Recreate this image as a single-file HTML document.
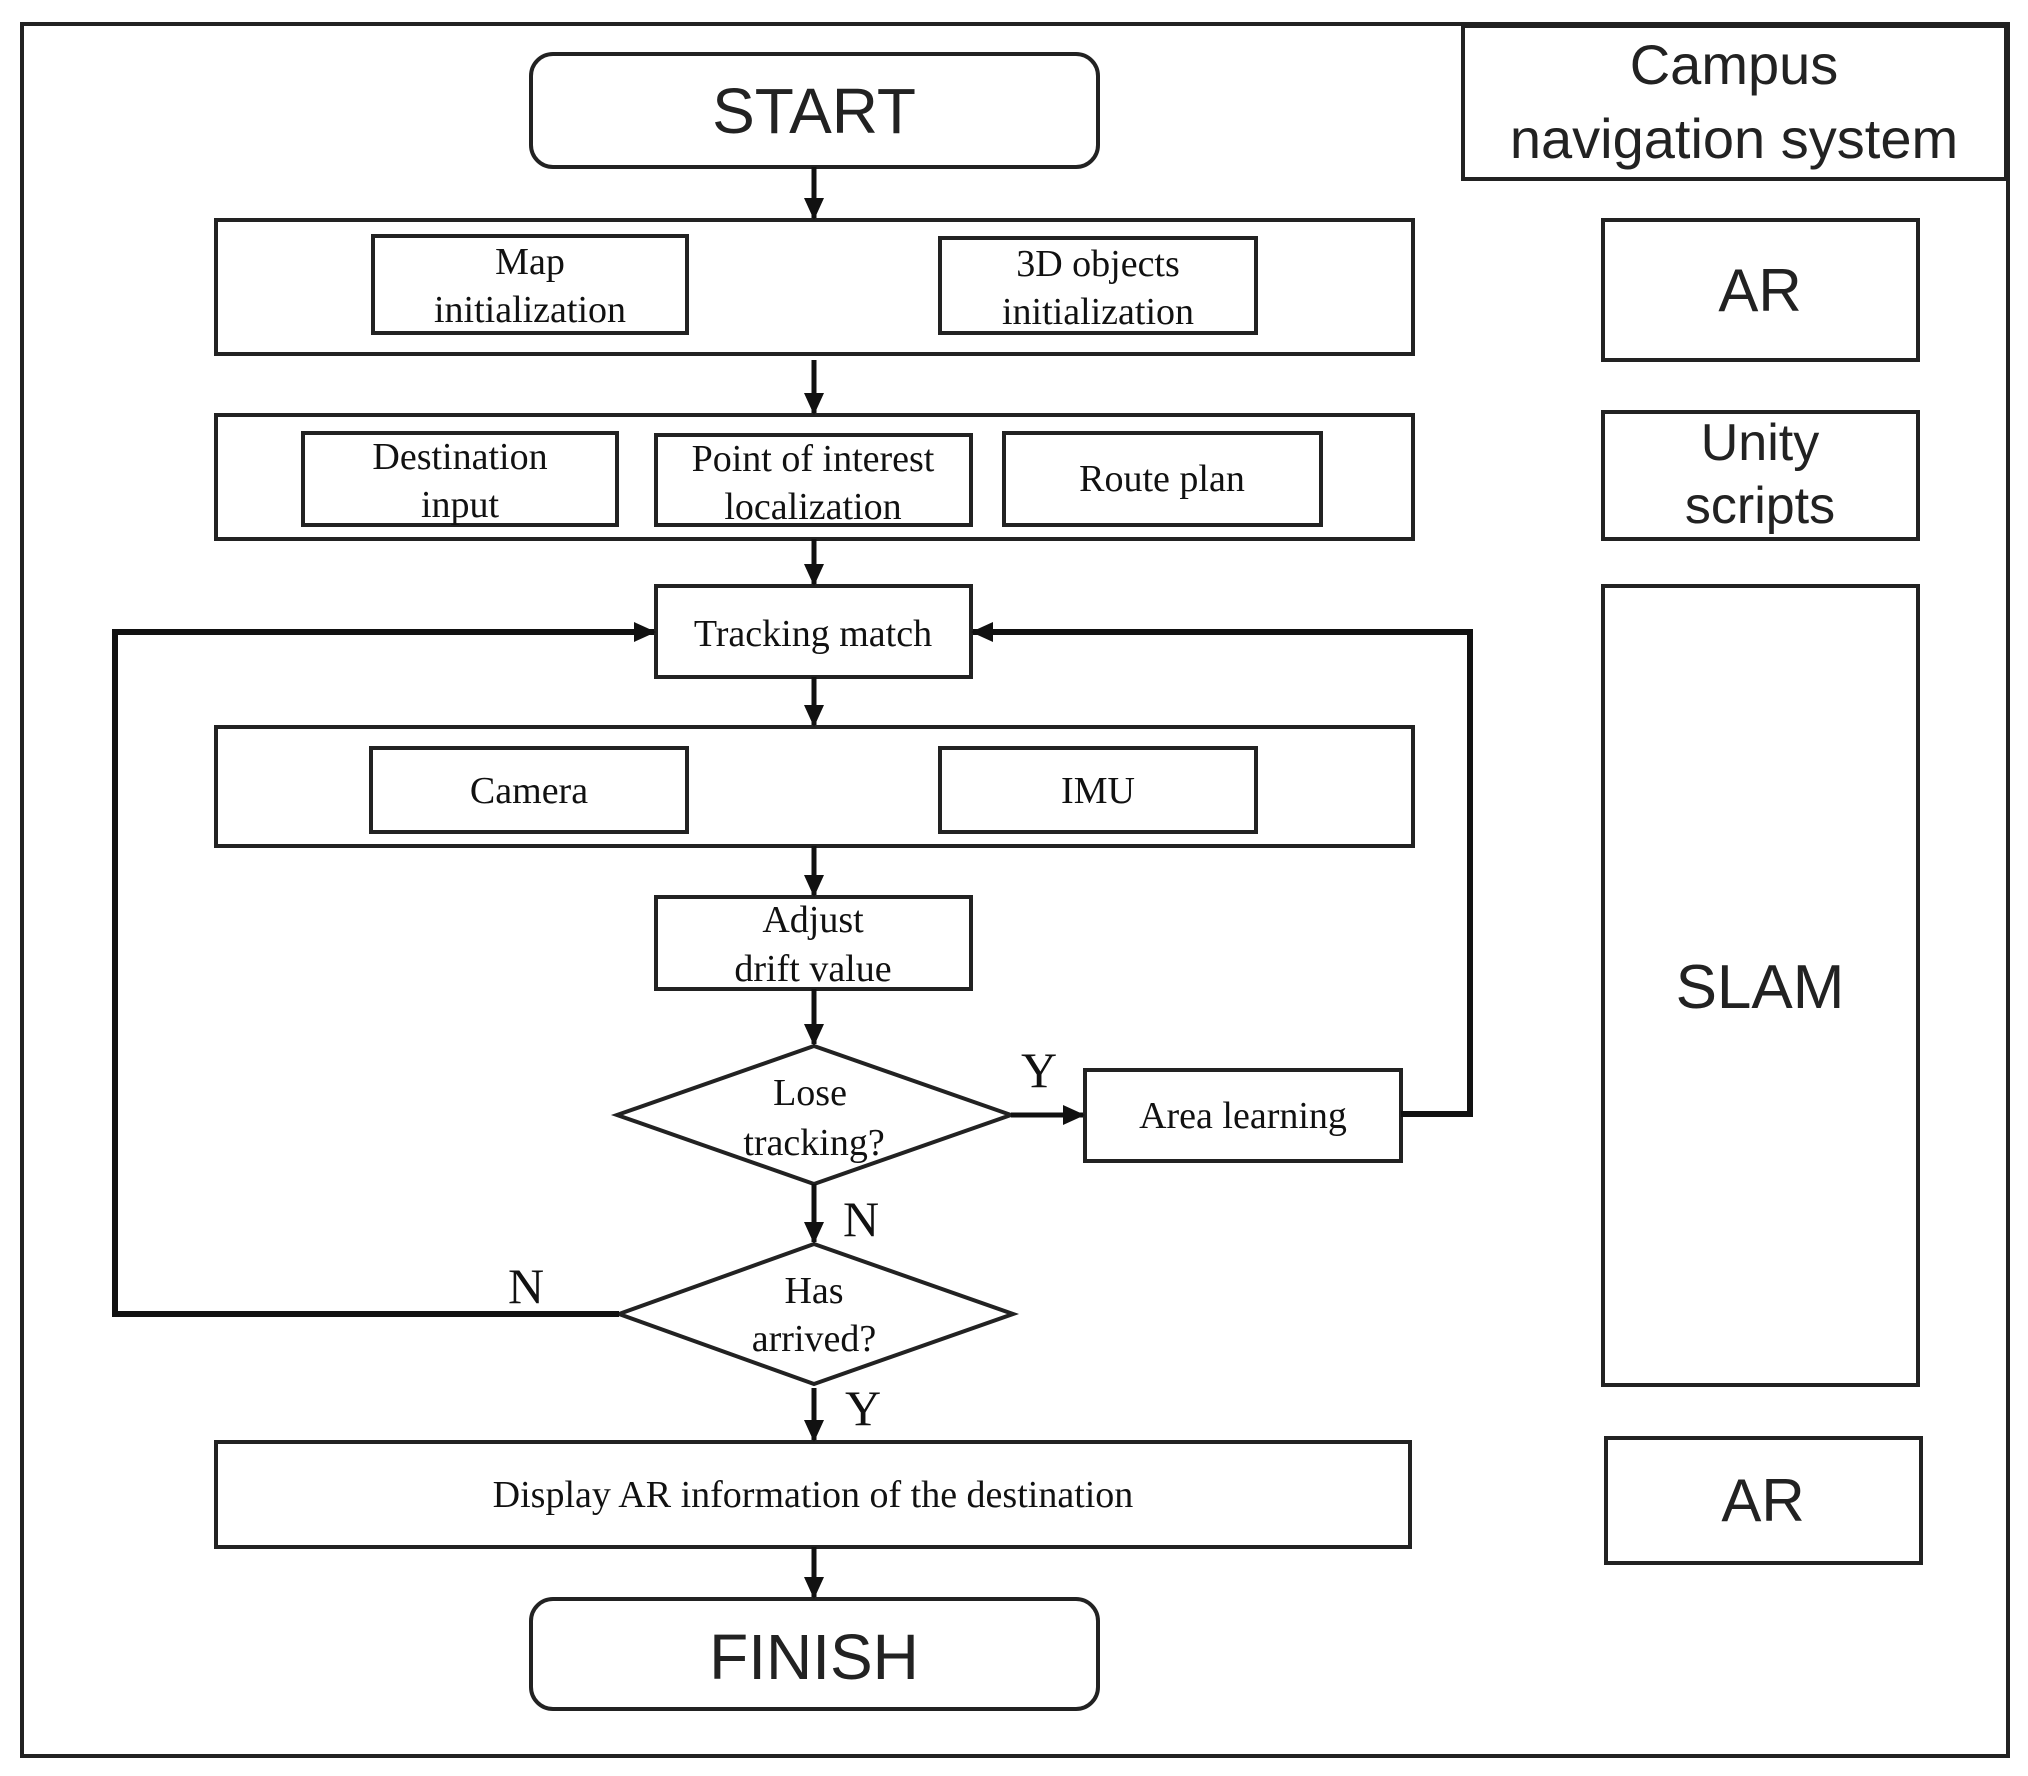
<!DOCTYPE html>
<html><head><meta charset="utf-8"><style>
html,body{margin:0;padding:0;background:#fff;}
svg{display:block;}
.s{font-family:"Liberation Serif",serif;fill:#111;text-anchor:middle;}
.a{font-family:"Liberation Sans",sans-serif;fill:#222;text-anchor:middle;}
</style></head><body>
<svg width="2028" height="1776" viewBox="0 0 2028 1776" xmlns="http://www.w3.org/2000/svg">
<defs>
<marker id="ab" markerWidth="22" markerHeight="20" refX="20" refY="10" orient="auto" markerUnits="userSpaceOnUse" viewBox="0 0 22 20"><path d="M0,0 L22,10 L0,20 z" fill="#111"/></marker></defs>
<g fill="none" stroke="#222" stroke-width="4">
<rect x="22" y="24" width="1986" height="1732"/>
<rect x="1463" y="26" width="543" height="153"/>
<rect x="531" y="54" width="567" height="113" rx="22"/>
<rect x="216" y="220" width="1197" height="134"/>
<rect x="373" y="236" width="314" height="97"/>
<rect x="940" y="238" width="316" height="95"/>
<rect x="216" y="415" width="1197" height="124"/>
<rect x="303" y="433" width="314" height="92"/>
<rect x="656" y="435" width="315" height="90"/>
<rect x="1004" y="433" width="317" height="92"/>
<rect x="656" y="586" width="315" height="91"/>
<rect x="216" y="727" width="1197" height="119"/>
<rect x="371" y="748" width="316" height="84"/>
<rect x="940" y="748" width="316" height="84"/>
<rect x="656" y="897" width="315" height="92"/>
<polygon points="617,1115 814,1046 1011,1115 814,1184"/>
<rect x="1085" y="1070" width="316" height="91"/>
<polygon points="619,1314 814,1244 1013,1314 814,1384"/>
<rect x="216" y="1442" width="1194" height="105"/>
<rect x="531" y="1599" width="567" height="110" rx="22"/>
<rect x="1603" y="220" width="315" height="140"/>
<rect x="1603" y="412" width="315" height="127"/>
<rect x="1603" y="586" width="315" height="799"/>
<rect x="1606" y="1438" width="315" height="125"/>
</g>
<g stroke="#111" stroke-width="5" fill="none">
<line x1="814" y1="167" x2="814" y2="218" marker-end="url(#ab)"/>
<line x1="814" y1="360" x2="814" y2="413" marker-end="url(#ab)"/>
<line x1="814" y1="539" x2="814" y2="584" marker-end="url(#ab)"/>
<line x1="814" y1="677" x2="814" y2="725" marker-end="url(#ab)"/>
<line x1="814" y1="846" x2="814" y2="895" marker-end="url(#ab)"/>
<line x1="814" y1="989" x2="814" y2="1044" marker-end="url(#ab)"/>
<line x1="814" y1="1184" x2="814" y2="1242" marker-end="url(#ab)"/>
<line x1="814" y1="1388" x2="814" y2="1440" marker-end="url(#ab)"/>
<line x1="814" y1="1547" x2="814" y2="1597" marker-end="url(#ab)"/>
<line x1="1011" y1="1115" x2="1083" y2="1115" marker-end="url(#ab)"/>
<polyline points="1401,1114 1470,1114 1470,632 973,632" stroke-width="6" marker-end="url(#ab)"/>
<polyline points="619,1314 115,1314 115,632 654,632" stroke-width="6" marker-end="url(#ab)"/>
</g>
<text class="a" x="1734" y="84" font-size="56">Campus</text>
<text class="a" x="1734" y="158" font-size="56">navigation system</text>
<text class="a" x="814" y="133" font-size="64">START</text>
<text class="a" x="814" y="1679" font-size="64">FINISH</text>
<text class="a" x="1760" y="311" font-size="60">AR</text>
<text class="a" x="1760" y="460" font-size="52">Unity</text>
<text class="a" x="1760" y="523" font-size="52">scripts</text>
<text class="a" x="1760" y="1008" font-size="62">SLAM</text>
<text class="a" x="1763" y="1521" font-size="60">AR</text>
<g class="s" font-size="38">
<text x="530" y="274">Map</text><text x="530" y="322">initialization</text>
<text x="1098" y="276">3D objects</text><text x="1098" y="324">initialization</text>
<text x="460" y="469">Destination</text><text x="460" y="517">input</text>
<text x="813" y="471">Point of interest</text><text x="813" y="519">localization</text>
<text x="1162" y="491">Route plan</text>
<text x="813" y="646">Tracking match</text>
<text x="529" y="803">Camera</text>
<text x="1098" y="803">IMU</text>
<text x="813" y="932">Adjust</text><text x="813" y="981">drift value</text>
<text x="810" y="1105">Lose</text><text x="814" y="1155">tracking?</text>
<text x="814" y="1303">Has</text><text x="814" y="1351">arrived?</text>
<text x="1243" y="1128">Area learning</text>
<text x="813" y="1507">Display AR information of the destination</text>
</g>
<g class="s" font-size="50">
<text x="1039" y="1087">Y</text>
<text x="861" y="1236">N</text>
<text x="526" y="1303">N</text>
<text x="863" y="1425">Y</text>
</g>
</svg>
</body></html>
